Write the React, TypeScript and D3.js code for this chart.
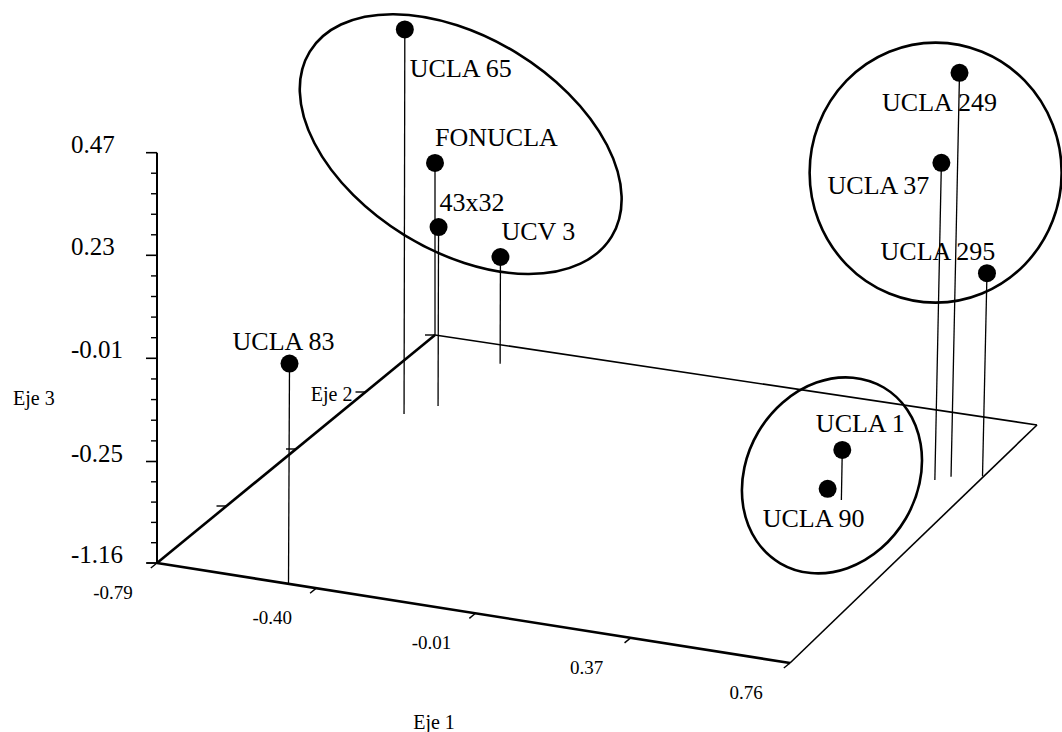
import * as d3 from "d3";

// Coordenadas de cada accesión (Eje 1, Eje 2, Eje 3)
const names = ["UCLA 65", "FONUCLA", "43x32", "UCV 3", "UCLA 83", "UCLA 249", "UCLA 37", "UCLA 295", "UCLA 1", "UCLA 90"];
const eje1 = [-0.65, -0.79, -0.598, -0.573, -0.468, 0.689, 0.661, 0.757, 0.503, 0.459];
const eje2 = [0.228, 0.6, 0.287, 0.516, -0.6, 0.318, 0.293, 0.341, 0.144, 0.161];
const eje3 = [0.41, -0.086, -0.07, -0.238, 0.026, 0.455, 0.252, -0.014, -0.712, -1.115];

// Grupos rodeados por una elipse
const groups = [
  ["UCLA 65", "FONUCLA", "43x32", "UCV 3"],
  ["UCLA 249", "UCLA 37", "UCLA 295"],
  ["UCLA 1", "UCLA 90"],
];

// Marcas de los ejes
const eje1Ticks = [-0.79, -0.4, -0.01, 0.37, 0.76];
const eje1Labels = ["-0.79", "-0.40", "-0.01", "0.37", "0.76"];
const eje2Ticks = [-0.6, -0.3, 0, 0.3, 0.6];
const eje3Ticks = [-1.16, -0.25, -0.01, 0.23, 0.47];
const eje3Labels = ["-1.16", "-0.25", "-0.01", "0.23", "0.47"];

const W = 1062, H = 732;
const FONT = "'Liberation Serif', 'Times New Roman', serif";

// esquinas del plano base (perspectiva aproximada)
const A = [157, 563], B = [790, 663], D = [435, 335], C = [1037, 425];

const tScale = d3.scaleLinear().domain([-0.79, 0.76]).range([0, 1]);
const sScale = d3.scaleLinear().domain([-0.6, 0.6]).range([0, 1]);
const zScale = d3.scaleLinear().domain(eje3Ticks).range([563, 461.5, 358.3, 255.3, 152.7]);

const floor = (x1: number, x2: number) => {
  const t = tScale(x1), s = sScale(x2);
  const w = [(1 - t) * (1 - s), t * (1 - s), (1 - t) * s, t * s];
  return [
    w[0] * A[0] + w[1] * B[0] + w[2] * D[0] + w[3] * C[0],
    w[0] * A[1] + w[1] * B[1] + w[2] * D[1] + w[3] * C[1],
  ];
};

const lean = 0.022;
const project = (x1: number, x2: number, z: number) => {
  const f = floor(x1, x2);
  const h = zScale(-1.16) - zScale(z);
  return { foot: f, dot: [f[0] + h * lean * tScale(x1), f[1] - h] };
};

// posición de las etiquetas respecto al punto
const labelPos: Record<string, [string, number, number]> = {
  "UCLA 65": ["start", 5, 48],
  "FONUCLA": ["start", 0, -17],
  "43x32": ["start", 1, -16],
  "UCV 3": ["start", 1, -17],
  "UCLA 83": ["middle", -6, -14],
  "UCLA 249": ["middle", -20, 38],
  "UCLA 37": ["end", -12, 31],
  "UCLA 295": ["middle", -49, -13],
  "UCLA 1": ["middle", 18, -18],
  "UCLA 90": ["middle", -14, 38],
};

const ellipseStyle = [
  { dx: 16, dy: -25, rx: 177, ry: 107, rot: 31.5 },
  { dx: -27, dy: 3, rx: 126, ry: 130, rot: 0 },
  { dx: -3, dy: 6, rx: 85.5, ry: 102, rot: 30.5 },
];

export default function App() {
  const pts = names.map((n, i) => ({ name: n, ...project(eje1[i], eje2[i], eje3[i]) }));
  const byName = new Map(pts.map((p) => [p.name, p]));

  const zx = A[0];
  const minor: number[] = [];
  for (let i = 0; i < eje3Ticks.length - 1; i++) {
    for (let k = 1; k < 5; k++) minor.push(eje3Ticks[i] + ((eje3Ticks[i + 1] - eje3Ticks[i]) * k) / 5);
  }

  const vLen = Math.hypot(D[0] - A[0], D[1] - A[1]);
  const vDir = [(D[0] - A[0]) / vLen, (D[1] - A[1]) / vLen];

  return (
    <svg width={W} height={H} style={{ position: "absolute", left: 0, top: 0, background: "#fff" }} fontFamily={FONT}>
      {/* plano base */}
      <line x1={D[0]} y1={D[1]} x2={C[0]} y2={C[1]} stroke="#000" strokeWidth={1.6} />
      <line x1={B[0]} y1={B[1]} x2={C[0]} y2={C[1]} stroke="#000" strokeWidth={1.6} />
      <line x1={A[0]} y1={A[1]} x2={B[0]} y2={B[1]} stroke="#000" strokeWidth={2.6} />
      <line x1={A[0]} y1={A[1]} x2={D[0]} y2={D[1]} stroke="#000" strokeWidth={2.6} />

      {/* Eje 3 */}
      <line x1={zx} y1={zScale(-1.16)} x2={zx} y2={zScale(0.47)} stroke="#000" strokeWidth={2} />
      {eje3Ticks.map((v, i) => (
        <g key={"z" + i}>
          <line x1={zx - 11} y1={zScale(v)} x2={zx} y2={zScale(v)} stroke="#000" strokeWidth={1.6} />
          <text x={71} y={zScale(v)} fontSize={25}>{eje3Labels[i]}</text>
        </g>
      ))}
      {minor.map((v, i) => (
        <line key={"m" + i} x1={zx - 6} y1={zScale(v)} x2={zx} y2={zScale(v)} stroke="#000" strokeWidth={1.4} />
      ))}
      <text x={13} y={405} fontSize={20}>Eje 3</text>

      {/* Eje 1 */}
      {eje1Ticks.map((v, i) => {
        const p = floor(v, -0.6);
        return (
          <g key={"x" + i}>
            <line x1={p[0]} y1={p[1]} x2={p[0] - vDir[0] * 8} y2={p[1] - vDir[1] * 8} stroke="#000" strokeWidth={1.4} />
            <text x={p[0] - 44} y={p[1] + 36} fontSize={19} textAnchor="middle">{eje1Labels[i]}</text>
          </g>
        );
      })}
      <text x={434} y={729} fontSize={20} textAnchor="middle">Eje 1</text>

      {/* Eje 2 */}
      {eje2Ticks.map((v, i) => {
        const p = floor(-0.79, v);
        return <line key={"y" + i} x1={p[0] - 10} y1={p[1]} x2={p[0]} y2={p[1]} stroke="#000" strokeWidth={1.4} />;
      })}
      {(() => {
        const p = floor(-0.79, eje2Ticks[3]);
        return <text x={p[0] - 13} y={p[1] + 9} fontSize={20} textAnchor="end">Eje 2</text>;
      })()}

      {/* elipses de agrupamiento */}
      {groups.map((g, gi) => {
        const cx = d3.mean(g, (n) => byName.get(n)!.dot[0])! + ellipseStyle[gi].dx;
        const cy = d3.mean(g, (n) => byName.get(n)!.dot[1])! + ellipseStyle[gi].dy;
        const e = ellipseStyle[gi];
        return (
          <ellipse key={"e" + gi} cx={0} cy={0} rx={e.rx} ry={e.ry}
            transform={`translate(${cx},${cy}) rotate(${e.rot})`}
            fill="none" stroke="#000" strokeWidth={2.6} />
        );
      })}

      {/* líneas de caída y puntos */}
      {pts.map((p) => (
        <line key={"l" + p.name} x1={p.foot[0]} y1={p.foot[1]} x2={p.dot[0]} y2={p.dot[1]} stroke="#000" strokeWidth={1.3} />
      ))}
      {pts.map((p) => (
        <circle key={"c" + p.name} cx={p.dot[0]} cy={p.dot[1]} r={9} fill="#000" />
      ))}
      {pts.map((p) => {
        const [anchor, dx, dy] = labelPos[p.name];
        return (
          <text key={"t" + p.name} x={p.dot[0] + dx} y={p.dot[1] + dy} fontSize={26} textAnchor={anchor as any}>
            {p.name}
          </text>
        );
      })}
    </svg>
  );
}
